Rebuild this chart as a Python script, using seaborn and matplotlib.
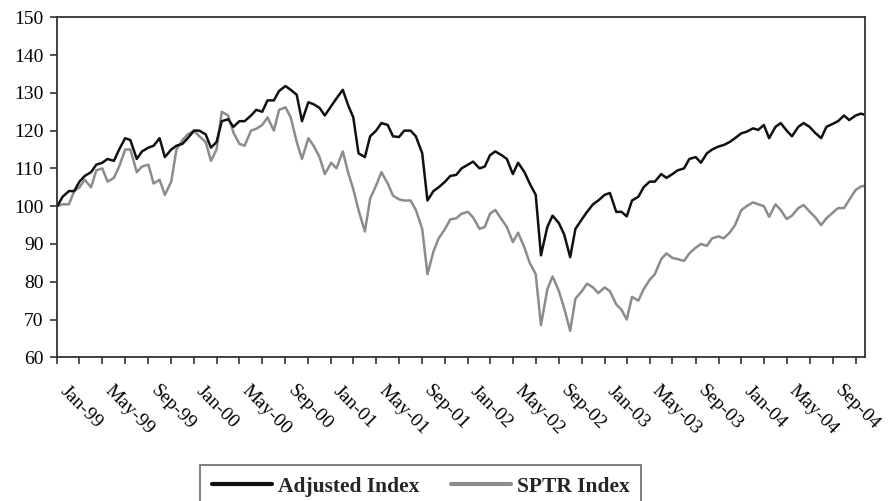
import numpy as np
import pandas as pd
import seaborn as sns
import matplotlib.pyplot as plt
import matplotlib.transforms as mtransforms

# semi-monthly observations (1st and 15th), plus the last day shown
dates = list(pd.date_range('1999-01-01', '2004-11-15', freq='SMS')) + [pd.Timestamp('2004-11-25')]

adjusted = [
    # 1999
    100, 102.5, 104, 104, 106.5, 108, 109, 111, 111.5, 112.5, 112, 115,
    118, 117.5, 112.5, 114.5, 115.5, 116, 118, 113, 115, 116, 116.5, 118,
    # 2000
    120, 120, 119, 115.5, 117, 122.5, 123, 121, 122.5, 122.5, 124, 125.5,
    125, 128, 128, 130.5, 131.8, 130.8, 129.5, 122.5, 127.5, 127, 126, 124,
    # 2001
    126.5, 128.5, 130.8, 126.8, 123.5, 114, 113, 118.5, 120, 122, 121.5, 118.5,
    118.3, 120, 120, 118.5, 114, 101.5, 104, 105, 106.5, 108, 108.3, 110,
    # 2002
    111, 111.8, 110, 110.5, 113.5, 114.5, 113.5, 112.5, 108.5, 111.5, 109, 106,
    103, 87, 94.5, 97.5, 95.5, 92.5, 86.5, 94, 96.5, 98.5, 100.5, 101.5,
    # 2003
    103, 103.5, 98.5, 98.5, 97.3, 101.5, 102.5, 105, 106.5, 106.5, 108.5, 107.5,
    108.5, 109.5, 110, 112.5, 113, 111.5, 114, 115, 115.8, 116.2, 117, 118,
    # 2004
    119.3, 119.7, 120.6, 120.2, 121.5, 118, 121, 122, 120, 118.5, 121, 122,
    121, 119.5, 118, 121, 121.8, 122.5, 124, 122.8, 124, 124.5, 124.2,
]

sptr = [
    # 1999
    100, 100.5, 100.5, 104, 105, 107, 105, 109.5, 110, 106.5, 107.5, 110.5,
    115, 115, 109, 110.5, 111, 106, 107, 103, 106.5, 115, 117.5, 119,
    # 2000
    120, 118.5, 117, 112, 115, 125, 124, 119.5, 116.5, 116, 120, 120.5,
    121.5, 123.5, 120, 125.5, 126.2, 123.5, 117, 112.5, 118, 116, 113, 108.5,
    # 2001
    111.5, 110, 114.5, 109, 104.5, 99, 93.3, 102, 105.5, 109, 106, 102.8,
    101.8, 101.5, 101.5, 99, 94, 82, 88, 91.5, 94, 96.5, 96.8, 98,
    # 2002
    98.5, 97, 94, 94.5, 98, 99, 96.5, 94.5, 90.5, 93, 89, 85,
    82, 68.5, 78, 81.4, 77.5, 73, 67, 75.5, 77.5, 79.5, 78.5, 77,
    # 2003
    78.5, 77.5, 74, 72.6, 70, 76, 75, 78, 80.5, 82, 86, 87.5,
    86.3, 86, 85.5, 87.5, 89, 90, 89.5, 91.5, 92, 91.5, 93, 95,
    # 2004
    99, 100, 101, 100.5, 100, 97.2, 100.5, 99, 96.6, 97.5, 99.5, 100.3,
    98.6, 97.2, 95, 96.8, 98.3, 99.5, 99.5, 101.7, 104.3, 105.2, 105.4,
]

tick_dates = pd.date_range('1999-01-01', '2004-11-01', freq='2MS')
tick_labels = [d.strftime('%b-%y') if d.month in (1, 5, 9) else '' for d in tick_dates]

df_adj = pd.DataFrame({'date': dates, 'value': adjusted})
df_sptr = pd.DataFrame({'date': dates, 'value': sptr})

sns.set_theme(style='white')
plt.rcParams['font.family'] = ['Liberation Serif', 'DejaVu Serif']

fig = plt.figure(figsize=(8.89, 5.01), dpi=100)
ax = fig.add_axes([0.0645, 0.2868, 0.9085, 0.6787])

sns.lineplot(x='date', y='value', data=df_sptr, color='#8c8c8c', linewidth=1.8, ax=ax)
sns.lineplot(x='date', y='value', data=df_adj, color='#111111', linewidth=1.8, ax=ax)

ax.set_xlim(pd.Timestamp('1999-01-01'), pd.Timestamp('2004-11-26'))
ax.set_ylim(60, 150)
ax.set_yticks(range(60, 151, 10))
ax.set_xticks(tick_dates)
ax.set_xticklabels(tick_labels, rotation=-45, ha='left', va='top', rotation_mode='anchor')
ax.set_xlabel('')
ax.set_ylabel('')

for s in ax.spines.values():
    s.set_color('#333333')
    s.set_linewidth(1.3)
ax.tick_params(axis='both', bottom=True, left=True, direction='out', length=5, width=1.2,
               color='#333333', labelsize=14, labelcolor='black')
ax.tick_params(axis='x', pad=13)
ax.tick_params(axis='y', pad=5)

offset = mtransforms.ScaledTranslation(11 / 100, 0, fig.dpi_scale_trans)
for lab in ax.get_xticklabels():
    lab.set_transform(lab.get_transform() + offset)

leg = fig.legend(handles=[ax.lines[1], ax.lines[0]], labels=['Adjusted Index', 'SPTR Index'],
                 loc='upper left', bbox_to_anchor=(0.225, 0.072), ncol=2, frameon=True,
                 fancybox=False, edgecolor='#444444', prop={'weight': 'bold', 'size': 15.5},
                 handlelength=2.8, handletextpad=0.25, columnspacing=1.5, borderpad=0.55,
                 borderaxespad=0)
leg.get_frame().set_linewidth(1.2)
for ln in leg.get_lines():
    ln.set_linewidth(3)

fig.savefig('out.png', dpi=100)
